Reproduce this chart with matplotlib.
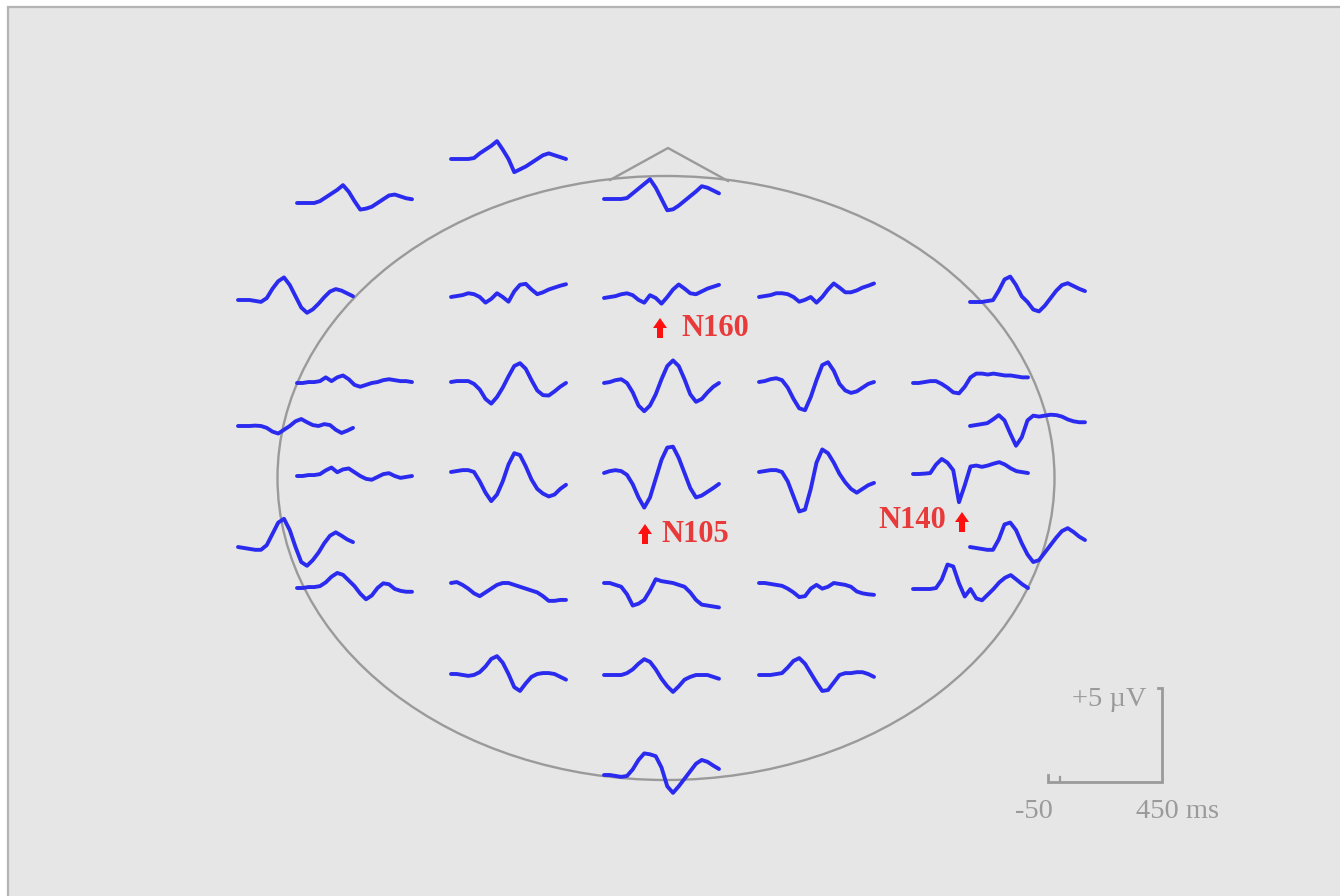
import numpy as np
import matplotlib
matplotlib.use("Agg")
import matplotlib.pyplot as plt
from matplotlib.patches import Ellipse, Rectangle, FancyArrow

# ---------------- data ----------------
times = list(range(-50, 451, 25))  # ms, 21 samples

# ERP amplitudes (µV), one list per electrode
af7 = [0, 0, 0, 0, 0.1, 0.3, 0.5, 0.7, 0.95, 0.6, 0.1, -0.35, -0.3, -0.2, 0, 0.2, 0.4, 0.45, 0.35, 0.25, 0.2]
fp1 = [0, 0, 0, 0, 0.05, 0.3, 0.5, 0.7, 0.95, 0.5, 0, -0.7, -0.55, -0.4, -0.2, 0, 0.2, 0.3, 0.2, 0.1, 0.0]
fpz = [0, 0, 0, 0, 0.05, 0.3, 0.55, 0.8, 1.05, 0.6, 0, -0.6, -0.55, -0.35, -0.1, 0.15, 0.4, 0.68, 0.6, 0.45, 0.3]
f7 = [0, 0, 0, -0.05, -0.1, 0.1, 0.6, 1.0, 1.2, 0.8, 0.2, -0.4, -0.68, -0.5, -0.2, 0.15, 0.45, 0.58, 0.5, 0.35, 0.2]
f3 = [0, 0.05, 0.1, 0.2, 0.15, 0, -0.3, -0.1, 0.2, 0, -0.25, 0.3, 0.65, 0.7, 0.4, 0.15, 0.25, 0.4, 0.5, 0.6, 0.68]
fz = [0, 0.05, 0.1, 0.2, 0.25, 0.15, -0.1, -0.25, 0.15, 0, -0.3, 0.05, 0.45, 0.72, 0.5, 0.25, 0.2, 0.35, 0.5, 0.6, 0.7]
f4 = [0, 0.05, 0.1, 0.2, 0.2, 0.15, 0, -0.25, -0.15, 0, -0.3, 0, 0.4, 0.72, 0.5, 0.25, 0.25, 0.35, 0.5, 0.6, 0.72]
f8 = [0, 0, 0, 0.05, 0.1, 0.6, 1.2, 1.35, 0.9, 0.3, 0.0, -0.4, -0.5, -0.2, 0.2, 0.6, 0.9, 1.0, 0.85, 0.7, 0.58]
ft7 = [0, 0, 0.05, 0.05, 0.1, 0.3, 0.1, 0.3, 0.4, 0.2, -0.1, -0.2, -0.1, 0, 0.05, 0.15, 0.2, 0.15, 0.1, 0.1, 0.05]
fc3 = [0, 0.05, 0.05, 0.05, -0.1, -0.4, -0.9, -1.15, -0.8, -0.3, 0.3, 0.85, 1.0, 0.7, 0.1, -0.45, -0.7, -0.72, -0.5, -0.25, -0.05]
fcz = [0, 0.05, 0.15, 0.2, 0, -0.5, -1.2, -1.5, -1.2, -0.6, 0.2, 0.9, 1.2, 0.9, 0.2, -0.6, -1.0, -0.85, -0.5, -0.2, 0]
fc4 = [0, 0.05, 0.15, 0.2, 0.1, -0.3, -0.9, -1.4, -1.5, -0.8, 0.1, 0.9, 1.05, 0.6, -0.1, -0.45, -0.58, -0.5, -0.3, -0.1, 0]
ft8 = [0, 0, 0.05, 0.1, 0.1, -0.05, -0.25, -0.5, -0.55, -0.2, 0.3, 0.5, 0.5, 0.45, 0.5, 0.45, 0.4, 0.4, 0.35, 0.3, 0.3]
t7 = [0, 0, 0, 0.02, 0, -0.1, -0.3, -0.4, -0.2, 0, 0.25, 0.37, 0.2, 0.05, 0, 0.1, 0.05, -0.2, -0.37, -0.25, -0.1]
t8 = [0, 0.05, 0.1, 0.15, 0.35, 0.58, 0.3, -0.4, -1.05, -0.6, 0.3, 0.55, 0.5, 0.55, 0.6, 0.58, 0.5, 0.35, 0.25, 0.2, 0.2]
tp7 = [0, 0, 0.05, 0.05, 0.1, 0.3, 0.45, 0.2, 0.35, 0.4, 0.2, 0, -0.15, -0.2, -0.05, 0.1, 0.15, 0, -0.1, -0.05, 0]
c3 = [0, 0.05, 0.1, 0.1, 0, -0.5, -1.1, -1.55, -1.2, -0.5, 0.4, 1.0, 0.9, 0.3, -0.4, -0.9, -1.15, -1.3, -1.2, -0.9, -0.68]
cz = [0, 0.1, 0.15, 0.1, -0.1, -0.6, -1.3, -1.84, -1.3, -0.3, 0.7, 1.35, 1.4, 0.8, 0, -0.8, -1.3, -1.2, -1.0, -0.8, -0.58]
c4 = [0, 0.05, 0.1, 0.1, 0, -0.5, -1.3, -2.1, -2.0, -0.9, 0.5, 1.2, 1.0, 0.5, -0.1, -0.55, -0.9, -1.1, -0.9, -0.7, -0.58]
tp8 = [0, 0, 0.02, 0.05, 0.5, 0.8, 0.6, 0.2, -1.5, -0.6, 0.4, 0.45, 0.38, 0.45, 0.55, 0.63, 0.5, 0.3, 0.15, 0.1, 0.05]
p7 = [0, -0.05, -0.1, -0.15, -0.15, 0.1, 0.7, 1.3, 1.5, 0.9, 0, -0.8, -1.0, -0.7, -0.3, 0.2, 0.6, 0.78, 0.6, 0.4, 0.26]
p8 = [0, -0.05, -0.1, -0.15, -0.15, 0.4, 1.2, 1.3, 0.9, 0.2, -0.4, -0.8, -0.7, -0.3, 0.1, 0.5, 0.85, 1.0, 0.8, 0.55, 0.37]
cp5 = [0, 0, 0.05, 0.05, 0.1, 0.3, 0.6, 0.8, 0.7, 0.4, 0.1, -0.3, -0.6, -0.4, 0, 0.25, 0.2, -0.05, -0.15, -0.2, -0.2]
p3 = [0, 0.05, -0.1, -0.3, -0.55, -0.7, -0.5, -0.3, -0.1, 0, 0, -0.1, -0.2, -0.3, -0.4, -0.5, -0.7, -0.95, -0.95, -0.9, -0.9]
pz = [0, 0, -0.1, -0.2, -0.6, -1.2, -1.1, -0.9, -0.4, 0.2, 0.1, 0.05, 0, -0.1, -0.2, -0.5, -0.9, -1.15, -1.2, -1.25, -1.3]
p4 = [0, 0, -0.05, -0.1, -0.15, -0.3, -0.5, -0.75, -0.7, -0.3, -0.1, -0.3, -0.2, 0, -0.05, -0.1, -0.2, -0.45, -0.55, -0.6, -0.63]
cp6 = [0, 0, 0, 0, 0.05, 0.5, 1.3, 1.2, 0.3, -0.4, 0, -0.5, -0.6, -0.3, 0, 0.35, 0.6, 0.74, 0.5, 0.25, 0.05]
po3 = [0, 0, -0.05, -0.1, -0.05, 0.1, 0.4, 0.8, 0.95, 0.6, 0, -0.7, -0.9, -0.5, -0.15, 0, 0.05, 0.05, 0, -0.15, -0.3]
poz = [0, 0, 0, 0, 0.1, 0.3, 0.6, 0.84, 0.7, 0.3, -0.2, -0.6, -0.9, -0.6, -0.25, -0.1, 0, 0, 0, -0.1, -0.2]
po4 = [0, 0, 0, 0.05, 0.1, 0.4, 0.75, 0.9, 0.6, 0.1, -0.4, -0.85, -0.8, -0.4, 0, 0.1, 0.1, 0.15, 0.15, 0.05, -0.1]
oz = [0, 0, -0.05, -0.1, -0.05, 0.3, 0.8, 1.15, 1.1, 1.0, 0.4, -0.6, -0.95, -0.6, -0.2, 0.2, 0.6, 0.8, 0.7, 0.5, 0.32]

# peak annotations
peak_labels = ["N160", "N105", "N140"]
scale_labels = ["+5 µV", "-50", "450 ms"]

# ---------------- layout ----------------
W, H = 1340, 896
PX_PER_UV = 18.8     # 5 µV = 94 px
WAVE_W = 115         # px for 500 ms
HALF_UV = 3.0

# (values, left x px, baseline y px)
layout = [
    (af7, 297, 203), (fp1, 451, 159), (fpz, 604, 199),
    (f7, 238, 300), (f3, 451, 297), (fz, 604, 298), (f4, 759, 297), (f8, 970, 302),
    (ft7, 297, 383), (fc3, 451, 382), (fcz, 604, 383), (fc4, 759, 382), (ft8, 913, 383),
    (t7, 238, 426), (t8, 970, 426),
    (tp7, 297, 476), (c3, 451, 472), (cz, 604, 473), (c4, 759, 472), (tp8, 913, 474),
    (p7, 238, 547), (p8, 970, 547),
    (cp5, 297, 588), (p3, 451, 583), (pz, 604, 583), (p4, 759, 583), (cp6, 913, 589),
    (po3, 451, 674), (poz, 604, 675), (po4, 759, 675),
    (oz, 604, 775),
]

fig = plt.figure(figsize=(W / 100, H / 100), dpi=100)
fig.patch.set_facecolor("white")
ax = fig.add_axes([0, 0, 1, 1])
ax.set_xlim(0, W)
ax.set_ylim(H, 0)
ax.set_axis_off()

# panel background
ax.add_patch(Rectangle((8, 7), W + 10, H + 10, facecolor="#e6e6e6",
                       edgecolor="#b4b4b4", lw=1.6, zorder=0))

grey = "#9a9a9a"
# head outline and nose
ax.add_patch(Ellipse((666, 478), 777, 604, facecolor="none", edgecolor=grey, lw=1.7, zorder=1))
ax.plot([610, 668, 728], [180, 148, 181], color=grey, lw=1.7, zorder=1)

# scale bar
ax.plot([1158, 1162, 1162, 1048, 1048], [688, 688, 782, 782, 775], color=grey, lw=2.0,
        solid_joinstyle="miter", zorder=1)
ax.plot([1060, 1060], [782, 777], color=grey, lw=1.6, zorder=1)
serif = ["Liberation Serif", "DejaVu Serif"]
ax.text(1146, 699, scale_labels[0], ha="right", va="center", fontsize=20.5, color=grey, family=serif)
ax.text(1034, 812, scale_labels[1], ha="center", va="center", fontsize=20.5, color=grey, family=serif)
ax.text(1136, 812, scale_labels[2], ha="left", va="center", fontsize=20.5, color=grey, family=serif)

# peak markers
red_txt = "#e83a3a"
red = "#ff1010"
def arrow(x, y):
    ax.add_patch(FancyArrow(x, y + 11, 0, -20, width=6, head_width=14, head_length=10,
                            length_includes_head=True, color=red, lw=0, zorder=3))

arrow(660, 327)
ax.text(681, 328, peak_labels[0], ha="left", va="center", fontsize=22, color=red_txt,
        family=serif, fontweight="bold")
arrow(645, 533)
ax.text(661, 534, peak_labels[1], ha="left", va="center", fontsize=22, color=red_txt,
        family=serif, fontweight="bold")
arrow(962, 521)
ax.text(946, 521, peak_labels[2], ha="right", va="center", fontsize=22, color=red_txt,
        family=serif, fontweight="bold")

# waveforms, one small axes each
half_px = HALF_UV * PX_PER_UV
for vals, x0, y0 in layout:
    iax = fig.add_axes([x0 / W, 1 - (y0 + half_px) / H, WAVE_W / W, 2 * half_px / H])
    iax.set_xlim(-50, 450)
    iax.set_ylim(-HALF_UV, HALF_UV)
    iax.set_axis_off()
    iax.plot(times, vals, color="#2b2bef", lw=2.8, solid_joinstyle="round",
             solid_capstyle="round", clip_on=False)

fig.savefig("out.png", dpi=100)
